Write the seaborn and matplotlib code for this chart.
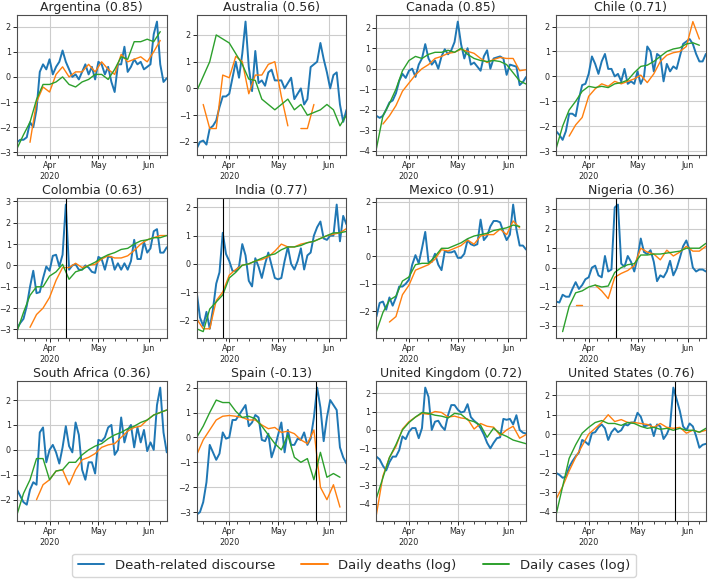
import numpy as np
import pandas as pd
import matplotlib
matplotlib.use("Agg")
import matplotlib.pyplot as plt
import matplotlib.dates as mdates
from matplotlib.ticker import MultipleLocator
from matplotlib.lines import Line2D
import seaborn as sns

nan = np.nan

# discourse is sampled every 2 days, deaths / cases every 4 days
dates_2d = pd.date_range("2020-03-12", "2020-06-12", freq="2D")
dates_4d = pd.date_range("2020-03-12", "2020-06-12", freq="4D")

month_ticks = ["2020-04-01", "2020-05-01", "2020-06-01"]
month_labels = ["Apr\n2020", "May", "Jun"]

countries = ["Argentina", "Australia", "Canada", "Chile",
             "Colombia", "India", "Mexico", "Nigeria",
             "South Africa", "Spain", "United Kingdom", "United States"]
correlations = ["0.85", "0.56", "0.85", "0.71",
                "0.63", "0.77", "0.91", "0.36",
                "0.36", "-0.13", "0.72", "0.76"]

event_countries = ["Colombia", "India", "Nigeria", "Spain", "United States"]
event_days = ["2020-04-11", "2020-03-28", "2020-04-18", "2020-05-24", "2020-05-24"]

series_names = ["Death-related discourse", "Daily deaths (log)", "Daily cases (log)"]
series_colors = ["#1f77b4", "#ff7f0e", "#2ca02c"]

arg_talk = [-2.6, -2.5, -2.5, -2.4, -1.8, -2.0, -1.3, 0.2, 0.5, 0.3, 0.7, 0.1, 0.4, 0.6, 1.05, 0.6,
            0.3, 0.0, 0.1, -0.1, 0.2, 0.5, 0.1, 0.4, -0.1, 0.6, 0.5, 0.1, 0.4, -0.2, -0.6, 0.5,
            0.5, 1.2, 0.2, 0.4, 0.7, 0.5, 0.6, 0.3, 0.4, 0.5, 1.7, 2.2, 0.5, -0.2, -0.05]
arg_deaths = [nan, nan, -2.6, -1.0, -0.4, -0.6, 0.1, 0.4, 0.0, 0.2, 0.2, 0.5,
              0.2, 0.6, 0.3, 0.1, 0.9, 0.6, 0.7, 0.8, 0.6, 1.0, 1.45, nan]
arg_cases = [-2.85, -2.3, -1.8, -0.9, -0.3, -0.3, -0.2, 0.0, -0.3, -0.4, -0.2, -0.1,
             0.1, 0.1, -0.1, 0.3, 0.8, 0.7, 1.4, 1.4, 1.5, 1.4, 1.8, nan]

aus_talk = [-2.25, -2.0, -1.95, -2.1, -1.5, -1.4, -1.2, -0.7, -0.3, -0.3, -0.2, 0.4, 1.0, 0.4, 1.3, 2.5,
            0.8, -0.1, 1.4, 0.2, 0.3, 0.1, 0.6, 0.7, 0.3, 0.3, 0.3, 0.0, 0.2, 0.4, -0.4, -0.2,
            0.0, -0.6, -0.4, 0.8, 0.9, 1.0, 1.7, 1.1, 0.6, 0.0, 0.5, 0.6, -0.6, -1.25, -0.8]
aus_deaths = [nan, -0.6, -1.5, -1.5, 0.5, 0.4, 1.2, 1.0, -0.2, 0.5, 0.5, 0.9,
              1.0, -0.3, -1.4, nan, -1.5, -1.5, -0.6, nan, nan, nan, nan, nan]
aus_cases = [-0.1, 0.45, 1.0, 2.0, 1.85, 1.7, 1.3, 0.9, 0.35, 0.3, -0.4, -0.6,
             -0.8, -0.6, -0.4, -0.8, -0.6, -1.0, -0.9, -0.8, -0.6, -0.8, -1.4, -1.0]

can_talk = [-2.3, -2.4, -2.3, -2.0, -1.65, -1.55, -1.2, -0.6, -0.25, -0.45, -0.1, 0.0, -0.4, 0.2, 0.5, 1.2,
            0.5, 0.2, 0.4, 0.0, 0.6, 0.95, 0.7, 0.9, 1.3, 2.3, 1.2, 0.5, 1.0, 0.2, 0.3, 0.1,
            -0.1, 0.6, 0.9, 0.0, 0.5, 0.55, 0.6, 0.5, -0.3, 0.2, 0.15, 0.1, -0.8, -0.65, -0.4]
can_deaths = [nan, -2.7, -2.3, -1.8, -1.1, -0.7, -0.3, 0.0, 0.2, 0.5, 0.6, 0.75,
              0.8, 0.95, 0.85, 0.75, 0.5, 0.3, 0.45, 0.55, 0.5, 0.5, -0.1, -0.05]
can_cases = [-3.9, -2.3, -1.7, -1.0, -0.1, 0.4, 0.6, 0.5, 0.7, 0.8, 0.8, 0.9,
             0.8, 1.0, 0.7, 0.5, 0.4, 0.35, 0.4, 0.35, 0.2, -0.2, -0.6, -0.75]

chl_talk = [-2.2, -2.35, -2.55, -2.2, -1.5, -1.5, -1.6, -0.9, -0.35, -0.3, 0.1, 0.8, 0.5, 0.1, 0.6, 0.9,
            0.3, 0.3, 0.0, 0.1, -0.2, 0.3, -0.3, -0.2, -0.3, 0.2, -0.3, 0.0, 1.2, 1.0, 0.2, 0.9,
            0.8, -0.2, 0.5, 0.2, 0.4, 0.3, 0.8, 1.3, 1.4, 1.5, 1.3, 0.9, 0.6, 0.6, 0.9]
chl_deaths = [nan, nan, -2.4, -1.95, -1.65, -0.8, -0.5, -0.3, -0.4, -0.2, -0.3, -0.2,
              -0.1, 0.05, -0.25, 0.1, 0.6, 0.85, 0.95, 1.0, 1.2, 2.2, 1.5, nan]
chl_cases = [-2.9, -2.0, -1.35, -1.0, -0.6, -0.4, -0.45, -0.4, -0.45, -0.3, -0.25, -0.15,
             0.15, 0.4, 0.45, 0.6, 0.8, 1.0, 1.1, 1.15, 1.3, 1.35, 1.25, nan]

col_talk = [-2.95, -2.7, -2.5, -1.9, -1.0, -0.25, -1.3, -1.25, -0.6, -0.05, -0.25, 0.45, 0.5, -0.05, 0.5, 2.85,
            -0.2, 0.0, 0.05, -0.2, -0.2, 0.0, -0.1, -0.3, -0.35, 0.4, 0.3, -0.2, 0.4, 0.4, -0.2, 0.1,
            -0.2, 0.1, -0.2, 0.2, 1.2, 0.3, 0.3, 1.1, 0.6, 0.8, 1.6, 1.7, 0.6, 0.6, 0.85]
col_deaths = [nan, nan, -2.9, -2.3, -2.0, -1.5, -0.7, -0.1, -0.1, 0.1, -0.1, 0.0,
              0.05, 0.3, 0.45, 0.35, 0.35, 0.45, 0.7, 1.0, 1.2, 1.3, 1.4, 1.4]
col_cases = [-3.1, -2.2, -1.4, -1.0, -1.0, -0.5, -0.3, 0.05, -0.65, -0.3, -0.2, 0.0,
             0.15, 0.35, 0.5, 0.6, 0.75, 0.8, 1.0, 1.15, 1.2, 1.3, 1.3, 1.4]

ind_talk = [-1.0, -1.9, -2.2, -1.7, -2.3, -1.6, -0.7, -0.3, 1.1, 0.35, 0.1, -0.25, -0.25, -0.1, 0.7, 0.3,
            -0.6, -0.8, 0.2, -0.1, -0.5, 0.0, 0.4, -0.05, -0.5, -0.55, -0.5, 0.1, 0.6, 0.0, -0.2, 0.1,
            0.55, -0.2, 0.3, 0.4, 1.0, 1.3, 1.5, 0.9, 0.85, 1.0, 1.0, 2.1, 0.8, 1.7, 1.4]
ind_deaths = [-1.95, -2.3, -2.3, -1.3, -1.0, -0.4, -0.2, -0.05, 0.0, 0.1, 0.15, 0.25,
              0.45, 0.7, 0.6, 0.6, 0.7, 0.75, 0.8, 0.9, 1.0, 1.05, 1.1, 1.25]
ind_cases = [-2.3, -2.4, -1.6, -1.35, -1.1, -0.5, -0.3, -0.05, 0.0, 0.1, 0.2, 0.3,
             0.35, 0.5, 0.6, 0.6, 0.65, 0.75, 0.8, 0.9, 1.0, 1.1, 1.1, 1.15]

mex_talk = [-2.2, -1.7, -1.65, -1.95, -1.5, -1.8, -1.5, -1.1, -1.1, -1.0, -0.85, -0.3, 0.05, -0.25, 0.3, 0.9,
            -0.2, -0.2, 0.1, -0.3, -0.5, 0.2, 0.15, 0.15, 0.2, -0.05, -0.05, 0.1, 0.6, 0.45, 0.4, 0.45,
            1.35, 0.6, 0.75, 1.1, 1.3, 1.3, 1.25, 0.9, 0.6, 0.8, 1.9, 1.0, 0.4, 0.4, 0.25]
mex_deaths = [nan, nan, -2.4, -2.2, -1.4, -1.05, -0.5, -0.4, -0.3, -0.1, 0.25, 0.2,
              0.3, 0.4, 0.6, 0.45, 0.75, 0.8, 0.8, 1.0, 0.8, 1.3, 1.05, nan]
mex_cases = [-2.75, -2.05, -1.6, -1.45, -0.9, -0.75, -0.3, -0.25, -0.25, 0.0, 0.3, 0.3,
             0.4, 0.5, 0.65, 0.75, 0.8, 0.85, 0.95, 1.0, 1.05, 1.15, 1.1, nan]

nga_talk = [-1.75, -1.8, -1.4, -1.5, -1.5, -1.1, -0.75, -1.1, -0.9, -0.6, -0.5, 0.0, 0.1, -0.4, -0.5, 0.6,
            -0.2, -0.1, 3.1, 3.25, 0.2, 0.05, 0.6, 0.3, -0.2, 0.5, 1.5, 0.8, 0.7, 0.9, 0.3, -0.7,
            -0.4, -0.5, -0.2, 0.35, -0.4, -0.05, 0.5, 1.1, 1.4, 0.9, 0.0, -0.2, -0.1, -0.1, -0.2]
nga_deaths = [nan, nan, nan, -1.95, -1.95, nan, -0.9, -1.2, -1.6, -0.5, -0.3, -0.15,
              0.1, 1.0, 0.8, 0.7, 0.4, 0.9, 0.6, 0.8, 1.1, 0.85, 0.85, 1.1]
nga_cases = [nan, -3.3, -2.0, -1.3, -1.2, -1.0, -0.9, -1.0, -0.95, -0.25, 0.0, 0.15,
             0.2, 0.65, 0.65, 0.7, 0.7, 0.75, 0.8, 0.85, 1.0, 1.0, 1.0, 1.25]

zaf_talk = [-1.6, -1.85, -2.1, -2.2, -1.6, -1.3, -1.4, 0.7, 0.9, -0.5, 0.0, 0.2, -0.1, -0.55, 0.1, 0.95,
            0.15, -0.1, 1.1, 0.6, -0.8, -1.2, -0.5, -0.5, -0.95, 0.4, 0.35, 0.5, 0.9, 1.0, -0.2, 0.0,
            1.3, 0.3, 0.8, 1.0, 0.1, 0.9, 0.3, 0.8, -0.05, 0.3, 0.0, 1.8, 2.5, 0.7, -0.1]
zaf_deaths = [nan, nan, nan, -2.0, -1.4, -1.2, -0.85, -0.8, -1.4, -0.8, -0.4, -0.3,
              -0.15, 0.1, 0.2, 0.25, 0.5, 0.75, 0.9, 0.95, 1.2, 1.4, 1.5, 1.6]
zaf_cases = [-2.6, -1.75, -1.2, -0.35, -0.35, -1.2, -0.85, -0.8, -0.5, -0.5, -0.2, 0.0,
             0.15, 0.25, 0.45, 0.6, 0.7, 0.85, 0.95, 1.1, 1.2, 1.4, 1.5, 1.6]

esp_talk = [-3.1, -3.0, -2.6, -1.8, -0.3, -0.6, -0.9, -0.65, 0.2, -0.05, 0.0, 0.7, 0.7, 0.9, 1.1, 1.3,
            0.45, 0.6, 0.9, 0.8, -0.1, -0.15, 0.15, -0.8, -0.4, 0.1, 0.6, -0.6, 0.3, -0.3, -0.3, -0.05,
            -0.1, 0.2, -0.3, -0.05, 0.8, 2.0, 1.2, -0.15, 0.8, 1.5, 1.3, 1.1, -0.4, -0.8, -1.05]
esp_deaths = [-0.7, -0.1, 0.3, 0.7, 0.85, 0.88, 0.85, 0.8, 0.7, 0.7, 0.5, 0.35,
              0.4, 0.2, 0.25, 0.15, -0.1, -0.25, 0.3, -2.0, -2.5, -1.9, -2.8, nan]
esp_cases = [0.0, 0.45, 1.0, 1.5, 1.4, 1.4, 1.05, 0.8, 0.85, 0.75, 0.45, 0.1,
             -0.25, -0.5, 0.1, -0.8, -1.0, -0.85, -1.7, -0.6, -1.6, -1.45, -1.6, nan]

gbr_talk = [-1.45, -1.6, -1.95, -2.2, -1.75, -1.45, -1.45, -1.1, -0.35, -0.5, -0.1, 0.1, 0.1, -0.45, 0.1, 2.3,
            1.8, 0.0, 0.45, 0.5, 0.2, 0.0, 0.8, 1.35, 1.35, 1.1, 0.95, 1.0, 1.4, 0.7, 0.5, 0.35,
            0.1, -0.25, -0.7, -1.0, -0.7, -0.45, -0.4, 0.6, 0.55, 0.6, 0.3, 0.8, 0.0, -0.15, -0.2]
gbr_deaths = [-4.6, -2.5, -1.5, -0.9, 0.05, 0.45, 0.7, 0.9, 0.85, 1.0, 0.95, 0.7,
              0.75, 0.65, 0.6, 0.05, 0.35, 0.2, 0.15, -0.3, 0.0, 0.2, -0.45, -0.25]
gbr_cases = [-3.7, -2.6, -1.5, -0.8, 0.0, 0.4, 0.7, 0.95, 0.9, 0.8, 0.75, 0.65,
             0.9, 0.85, 0.55, 0.45, 0.25, -0.4, 0.1, -0.2, -0.35, -0.55, -0.65, -0.75]

usa_talk = [-2.0, -2.1, -2.25, -2.2, -1.7, -1.4, -1.15, -0.95, -0.3, -0.4, -0.55, 0.05, 0.1, 0.35, 0.5, 0.3,
            -0.3, 0.1, 0.3, 0.1, 0.2, 0.5, 0.45, 0.6, 0.6, 1.1, 0.9, 0.4, 0.45, 0.5, -0.1, 0.5,
            0.4, -0.25, 0.0, 0.4, 2.4, 1.8, 1.2, 0.4, 0.2, 0.55, 0.4, -0.1, -0.7, -0.55, -0.5]
usa_deaths = [-3.35, -2.7, -1.9, -1.2, -0.6, 0.0, 0.3, 0.6, 1.0, 0.65, 0.75, 0.6,
              0.6, 0.55, 0.5, 0.35, 0.55, 0.35, 0.3, 0.35, 0.05, 0.2, 0.1, 0.2]
usa_cases = [-4.15, -2.7, -1.25, -0.55, 0.05, 0.35, 0.6, 0.7, 0.55, 0.55, 0.45, 0.6,
             0.55, 0.4, 0.3, 0.35, 0.25, 0.3, 0.2, 0.3, 0.2, 0.2, 0.1, 0.3]

panel_data = {
    "Argentina": (arg_talk, arg_deaths, arg_cases),
    "Australia": (aus_talk, aus_deaths, aus_cases),
    "Canada": (can_talk, can_deaths, can_cases),
    "Chile": (chl_talk, chl_deaths, chl_cases),
    "Colombia": (col_talk, col_deaths, col_cases),
    "India": (ind_talk, ind_deaths, ind_cases),
    "Mexico": (mex_talk, mex_deaths, mex_cases),
    "Nigeria": (nga_talk, nga_deaths, nga_cases),
    "South Africa": (zaf_talk, zaf_deaths, zaf_cases),
    "Spain": (esp_talk, esp_deaths, esp_cases),
    "United Kingdom": (gbr_talk, gbr_deaths, gbr_cases),
    "United States": (usa_talk, usa_deaths, usa_cases),
}


def draw_series(ax, dates, values, color, lw):
    # break the line where values are missing
    df = pd.DataFrame({"date": dates, "value": values})
    df["seg"] = df["value"].isna().cumsum()
    df = df.dropna()
    if len(df) < 2:
        return
    sns.lineplot(data=df, x="date", y="value", units="seg", estimator=None,
                 color=color, linewidth=lw, ax=ax, legend=False)


sns.set_style("ticks", {"axes.grid": True, "grid.color": ".8", "axes.edgecolor": ".3"})

fig, axes = plt.subplots(3, 4, figsize=(7.08, 5.86), dpi=100)
fig.subplots_adjust(left=0.024, right=0.997, top=0.974, bottom=0.111, wspace=0.2, hspace=0.31)

x0 = mdates.date2num(dates_2d[0])
x1 = mdates.date2num(dates_2d[-1])
major = mdates.date2num(pd.to_datetime(month_ticks))

for ax, country, corr in zip(axes.flat, countries, correlations):
    talk, deaths, cases = panel_data[country]
    draw_series(ax, dates_2d, talk, series_colors[0], 1.4)
    draw_series(ax, dates_4d, deaths, series_colors[1], 1.0)
    draw_series(ax, dates_4d, cases, series_colors[2], 1.0)

    if country in event_countries:
        day = event_days[event_countries.index(country)]
        ax.axvline(mdates.date2num(pd.Timestamp(day)), color="black", lw=0.8)

    ax.set_title(f"{country} ({corr})", fontsize=9, pad=3)
    ax.set_xlabel("")
    ax.set_ylabel("")
    ax.set_xlim(x0, x1)
    ax.set_xticks(major)
    ax.set_xticklabels(month_labels)
    ax.xaxis.set_minor_locator(mdates.WeekdayLocator(byweekday=mdates.MO))
    ax.yaxis.set_major_locator(MultipleLocator(1))
    ax.tick_params(axis="both", which="major", labelsize=5.8, length=3, width=0.7, pad=1.5)
    ax.tick_params(axis="x", which="minor", length=2, width=0.6)
    ax.grid(True, which="major", lw=0.8)
    for spine in ax.spines.values():
        spine.set_linewidth(0.8)

# legend sits below the bottom row's date labels
handles = [Line2D([], [], color=c, lw=1.4) for c in series_colors]
fig.legend(handles, series_names, loc="lower center", bbox_to_anchor=(0.5, 0.004),
           ncol=3, fontsize=9.5, frameon=True, edgecolor=".8")

fig.savefig("out.png", dpi=100)
